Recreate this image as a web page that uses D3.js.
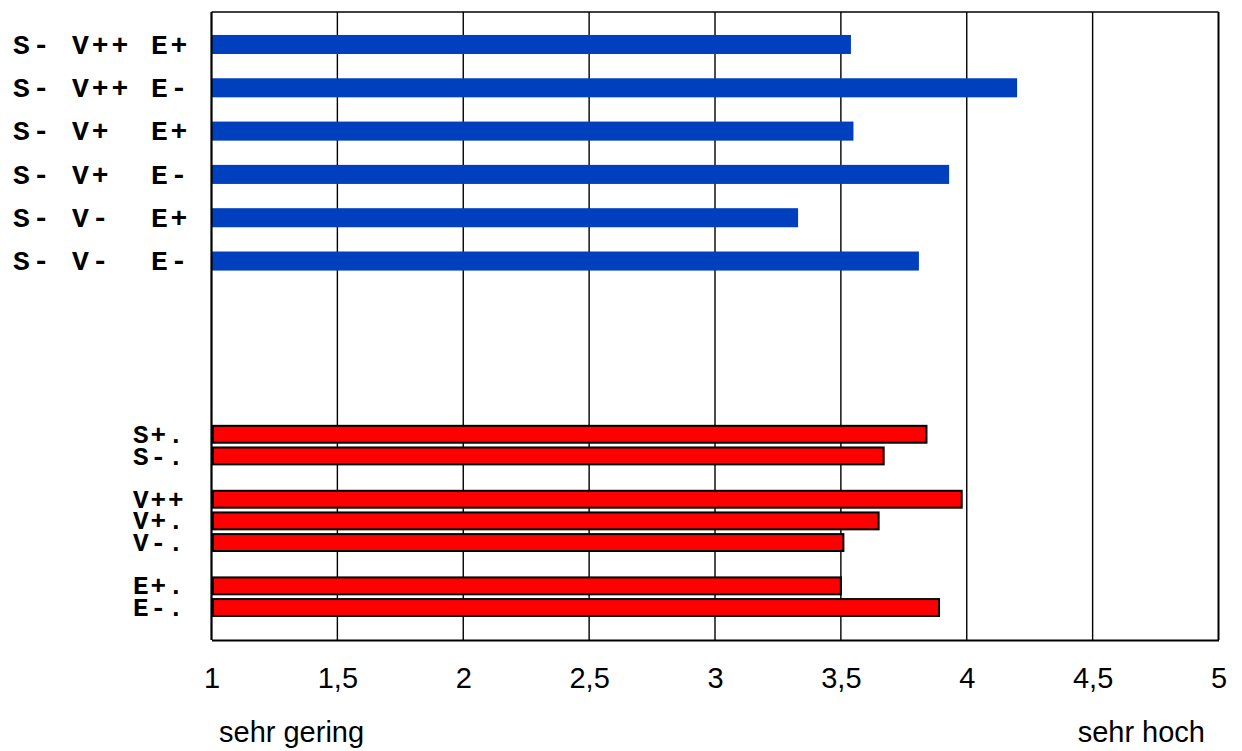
<!DOCTYPE html>
<html>
<head>
<meta charset="utf-8">
<script src="https://cdn.jsdelivr.net/npm/d3@7"></script>
<style>
  html, body { margin: 0; padding: 0; background: #fff; }
  svg { display: block; }
</style>
</head>
<body>
<div id="chart"></div>
<script>
// ---- data ----
const blueLabels = ["S- V++ E+", "S- V++ E-", "S- V+  E+", "S- V+  E-", "S- V-  E+", "S- V-  E-"];
const blueValues = [3.54, 4.20, 3.55, 3.93, 3.33, 3.81];
const redLabels = ["S+.", "S-.", "V++", "V+.", "V-.", "E+.", "E-."];
const redValues = [3.84, 3.67, 3.98, 3.65, 3.51, 3.50, 3.89];
const tickValues = [1, 1.5, 2, 2.5, 3, 3.5, 4, 4.5, 5];
const tickLabels = ["1", "1,5", "2", "2,5", "3", "3,5", "4", "4,5", "5"];
const axisNotes = ["sehr gering", "sehr hoch"];

(function () {
// ---- layout ----
const W = 1242, H = 751;
const pLeft = 211.5, pRight = 1218.5, pTop = 12, pBottom = 640;

const svg = d3.select("#chart").append("svg").attr("width", W).attr("height", H);

const x = d3.scaleLinear().domain([1, 5]).range([pLeft, pRight]);

// row slots (blue rows separated by empty slots, red groups separated by empty slots)
const rows = ["_g0"];
blueLabels.forEach((l, i) => { if (i > 0) rows.push("_b" + i); rows.push("B:" + l); });
for (let i = 0; i < 7; i++) rows.push("_m" + i);
let prev = null;
redLabels.forEach((l, i) => {
  const g = l[0];
  if (prev && g !== prev) rows.push("_r" + i);
  rows.push("R:" + l);
  prev = g;
});
rows.push("_end");

const y = d3.scaleBand().domain(rows).range([pTop, pBottom]).padding(0);
const bw = y.bandwidth();

const blue = blueLabels.map((l, i) => ({ key: "B:" + l, label: l, value: blueValues[i] }));
const red = redLabels.map((l, i) => ({ key: "R:" + l, label: l, value: redValues[i] }));

// gridlines
svg.append("g").selectAll("line").data(tickValues.filter(v => v > 1 && v < 5)).join("line")
  .attr("x1", d => x(d)).attr("x2", d => x(d))
  .attr("y1", pTop).attr("y2", pBottom)
  .attr("stroke", "#000").attr("stroke-width", 1.4);

// blue bars
const bh = bw * 0.88;
svg.append("g").selectAll("rect").data(blue).join("rect")
  .attr("x", x(1))
  .attr("y", d => y(d.key) + (bw - bh) / 2)
  .attr("width", d => x(d.value) - x(1))
  .attr("height", bh)
  .attr("fill", "#0040bf");

// red bars
const rh = bw * 0.78;
svg.append("g").selectAll("rect").data(red).join("rect")
  .attr("x", x(1) + 1.5)
  .attr("y", d => y(d.key) + (bw - rh) / 2)
  .attr("width", d => x(d.value) - x(1) - 1.5)
  .attr("height", rh)
  .attr("fill", "#ff0000")
  .attr("stroke", "#000").attr("stroke-width", 2);

// frame
svg.append("line").attr("x1", pLeft).attr("x2", pRight).attr("y1", pTop).attr("y2", pTop)
  .attr("stroke", "#000").attr("stroke-width", 1.6);
svg.append("line").attr("x1", pRight).attr("x2", pRight).attr("y1", pTop).attr("y2", pBottom)
  .attr("stroke", "#000").attr("stroke-width", 2);
svg.append("line").attr("x1", pLeft).attr("x2", pLeft).attr("y1", pTop).attr("y2", pBottom)
  .attr("stroke", "#000").attr("stroke-width", 2.2);

// bottom axis
const axis = d3.axisBottom(x).tickValues(tickValues).tickSize(0)
  .tickFormat((d, i) => tickLabels[i]);
const ax = svg.append("g").attr("transform", `translate(0,${pBottom})`).call(axis);
ax.select(".domain").attr("stroke", "#000").attr("stroke-width", 2);
ax.selectAll("text")
  .attr("y", 48).attr("dy", 0)
  .attr("fill", "#000")
  .style("font-family", "Arial, 'Liberation Sans', sans-serif")
  .style("font-size", "29px");

// category labels
const mono = "'Courier New', 'Liberation Mono', monospace";
svg.append("g").selectAll("text").data(blue).join("text")
  .attr("x", 13)
  .attr("y", d => y(d.key) + bw / 2 + 9.2)
  .style("white-space", "pre")
  .style("font-family", mono).style("font-weight", "bold")
  .style("font-size", "28px").style("letter-spacing", "2.9px")
  .attr("fill", "#000")
  .text(d => d.label);

svg.append("g").selectAll("text").data(red).join("text")
  .attr("x", 133)
  .attr("y", d => y(d.key) + bw / 2 + 8.6)
  .style("white-space", "pre")
  .style("font-family", mono).style("font-weight", "bold")
  .style("font-size", "26px").style("letter-spacing", "1.9px")
  .attr("fill", "#000")
  .text(d => d.label);

// scale notes
svg.append("text").attr("x", 219).attr("y", 742)
  .style("font-family", "Arial, 'Liberation Sans', sans-serif").style("font-size", "29px")
  .text(axisNotes[0]);
svg.append("text").attr("x", 1205).attr("y", 742).attr("text-anchor", "end")
  .style("font-family", "Arial, 'Liberation Sans', sans-serif").style("font-size", "29px")
  .text(axisNotes[1]);
})();
</script>
</body>
</html>
